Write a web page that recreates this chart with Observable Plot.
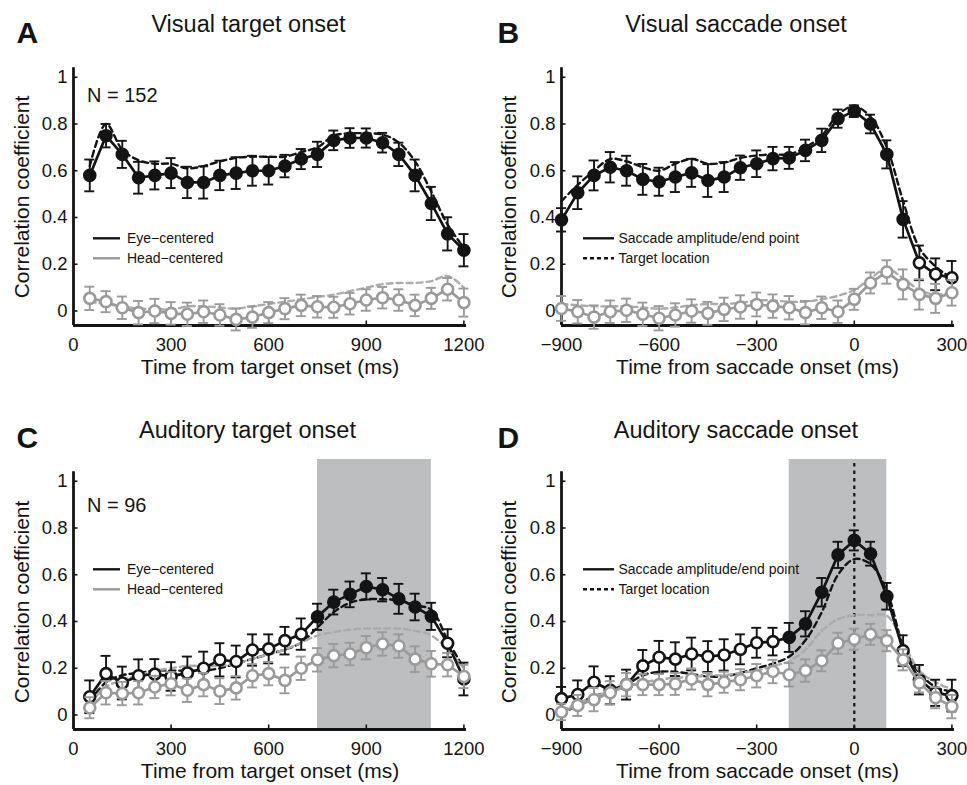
<!DOCTYPE html>
<html><head><meta charset="utf-8">
<script src="https://cdn.jsdelivr.net/npm/d3@7"></script>
<script src="https://cdn.jsdelivr.net/npm/@observablehq/plot@0.6"></script>
<style>
body{margin:0;background:#fff;}
#wrap{position:relative;width:967px;height:785px;overflow:hidden;background:#fff;font-family:"Liberation Sans",Arial,Helvetica,sans-serif;}
#wrap > svg{position:absolute;}
</style></head><body><div id="wrap"></div>
<script>
// ---------- data ----------
const tTarget = [50,100,150,200,250,300,350,400,450,500,550,600,650,700,750,800,850,900,950,1000,1050,1100,1150,1200];
const tSaccade = [-900,-850,-800,-750,-700,-650,-600,-550,-500,-450,-400,-350,-300,-250,-200,-150,-100,-50,0,50,100,150,200,250,300];

const xTicksTarget = [0,300,600,900,1200];
const xLabelsTarget = ["0","300","600","900","1200"];
const xTicksSaccade = [-900,-600,-300,0,300];
const xLabelsSaccade = ["\u2212900","\u2212600","\u2212300","0","300"];
const yTicks = [0,0.2,0.4,0.6,0.8,1];
const yLabels = ["0","0.2","0.4","0.6","0.8","1"];

// Panel A: Visual target onset
const aEye = [0.58,0.75,0.67,0.57,0.58,0.59,0.55,0.55,0.58,0.59,0.60,0.60,0.62,0.65,0.67,0.73,0.74,0.74,0.72,0.67,0.58,0.46,0.33,0.26];
const aEyeErr = [0.068,0.05,0.058,0.068,0.06,0.064,0.067,0.069,0.063,0.068,0.064,0.059,0.048,0.043,0.054,0.042,0.042,0.041,0.042,0.05,0.068,0.071,0.071,0.069];
const aEyeDash = [0.62,0.80,0.69,0.645,0.63,0.63,0.61,0.62,0.64,0.655,0.66,0.66,0.66,0.68,0.70,0.75,0.76,0.76,0.755,0.72,0.64,0.51,0.37,0.27];
const aHead = [0.054,0.04,0.014,-0.007,0.0,-0.01,-0.014,-0.003,-0.017,-0.036,-0.026,-0.007,0.01,0.024,0.018,0.016,0.031,0.047,0.057,0.047,0.024,0.054,0.093,0.036];
const aHeadErr = [0.05,0.045,0.048,0.05,0.052,0.048,0.05,0.048,0.046,0.047,0.046,0.045,0.045,0.046,0.046,0.045,0.046,0.046,0.046,0.046,0.046,0.045,0.048,0.06];
const aHeadDash = [0.04,0.03,0.02,0.01,0.01,0.005,0.02,0.02,0.015,0.01,0.02,0.03,0.04,0.05,0.06,0.07,0.085,0.1,0.115,0.12,0.12,0.128,0.15,0.10];
const aFilled = [1,1,1,1,1,1,1,1,1,1,1,1,1,1,1,1,1,1,1,1,1,1,1,1];

// Panel B: Visual saccade onset
const bEye = [0.39,0.506,0.58,0.615,0.60,0.563,0.553,0.573,0.591,0.558,0.573,0.613,0.63,0.652,0.655,0.687,0.73,0.823,0.855,0.80,0.67,0.392,0.206,0.157,0.142];
const bEyeErr = [0.05,0.07,0.064,0.065,0.064,0.066,0.06,0.064,0.06,0.07,0.064,0.052,0.057,0.05,0.047,0.046,0.05,0.039,0.025,0.04,0.06,0.078,0.074,0.068,0.072];
const bEyeDash = [0.47,0.54,0.60,0.65,0.64,0.615,0.60,0.63,0.65,0.63,0.635,0.655,0.665,0.67,0.67,0.70,0.75,0.84,0.876,0.83,0.70,0.47,0.27,0.19,0.14];
const bHead = [0.011,-0.003,-0.026,-0.003,0.003,-0.014,-0.031,-0.017,0.0,-0.01,0.007,0.017,0.028,0.021,0.014,-0.007,0.014,-0.003,0.05,0.12,0.167,0.114,0.071,0.054,0.078];
const bHeadErr = [0.053,0.05,0.05,0.048,0.05,0.05,0.052,0.05,0.05,0.049,0.05,0.05,0.051,0.05,0.05,0.05,0.048,0.048,0.045,0.045,0.05,0.064,0.065,0.062,0.055];
const bHeadDash = [0.03,0.025,0.02,0.02,0.02,0.015,0.01,0.015,0.025,0.03,0.03,0.035,0.045,0.045,0.04,0.04,0.05,0.065,0.09,0.14,0.18,0.14,0.09,0.07,0.08];
const bFilled = [1,1,1,1,1,1,1,1,1,1,1,1,1,1,1,1,1,1,1,1,1,1,0,0,0];

// Panel C: Auditory target onset
const cEye = [0.078,0.177,0.137,0.168,0.175,0.165,0.18,0.20,0.236,0.229,0.278,0.283,0.318,0.346,0.42,0.483,0.516,0.55,0.536,0.497,0.462,0.422,0.307,0.154];
const cEyeErr = [0.07,0.076,0.07,0.07,0.064,0.061,0.07,0.071,0.071,0.068,0.067,0.062,0.059,0.067,0.056,0.053,0.055,0.056,0.05,0.064,0.057,0.058,0.06,0.07];
const cEyeDash = [0.06,0.14,0.17,0.18,0.19,0.19,0.19,0.19,0.2,0.22,0.24,0.26,0.28,0.31,0.375,0.44,0.48,0.495,0.495,0.49,0.47,0.45,0.32,0.2];
const cHead = [0.031,0.095,0.092,0.095,0.12,0.134,0.106,0.13,0.102,0.116,0.168,0.177,0.148,0.20,0.236,0.254,0.261,0.288,0.304,0.295,0.239,0.219,0.215,0.165];
const cHeadErr = [0.045,0.05,0.05,0.05,0.048,0.05,0.05,0.05,0.055,0.05,0.05,0.05,0.055,0.05,0.05,0.05,0.048,0.05,0.05,0.05,0.055,0.055,0.05,0.05];
const cHeadDash = [0.05,0.12,0.15,0.17,0.19,0.2,0.21,0.21,0.21,0.22,0.24,0.26,0.28,0.31,0.34,0.355,0.365,0.37,0.37,0.37,0.36,0.34,0.28,0.2];
const cFilled = [0,0,0,0,0,0,0,0,0,0,0,0,0,0,1,1,1,1,1,1,1,1,0,0];
const cShade = [750,1100];

// Panel D: Auditory saccade onset
const dEye = [0.07,0.088,0.14,0.106,0.13,0.21,0.247,0.239,0.261,0.25,0.257,0.281,0.309,0.314,0.332,0.39,0.525,0.685,0.747,0.69,0.508,0.275,0.151,0.095,0.083];
const dEyeErr = [0.05,0.06,0.068,0.06,0.064,0.068,0.07,0.072,0.07,0.066,0.067,0.064,0.064,0.059,0.062,0.054,0.061,0.056,0.043,0.051,0.057,0.066,0.063,0.056,0.068];
const dEyeDash = [0.0,0.045,0.08,0.1,0.13,0.17,0.185,0.185,0.175,0.165,0.165,0.18,0.2,0.22,0.25,0.32,0.44,0.6,0.667,0.645,0.53,0.3,0.18,0.12,0.1];
const dHead = [0.013,0.041,0.066,0.095,0.13,0.13,0.13,0.133,0.154,0.13,0.14,0.151,0.168,0.186,0.172,0.19,0.232,0.307,0.324,0.345,0.318,0.236,0.137,0.074,0.036];
const dHeadErr = [0.035,0.045,0.05,0.05,0.05,0.045,0.045,0.047,0.045,0.05,0.045,0.045,0.05,0.05,0.05,0.048,0.045,0.045,0.045,0.045,0.045,0.045,0.04,0.045,0.05];
const dHeadDash = [0.02,0.05,0.08,0.1,0.12,0.14,0.15,0.16,0.16,0.17,0.17,0.18,0.19,0.21,0.23,0.28,0.36,0.41,0.427,0.427,0.425,0.31,0.19,0.14,0.11];
const dFilled = [0,0,0,0,0,0,0,0,0,0,0,0,0,0,1,1,1,1,1,1,1,0,0,0,0];
const dShade = [-200,100];
const dOnset = [0];

// ---------- styling ----------
const BLACK = "#141414", GRAY = "#9a9a9a", GRAYDASH = "#ababab", SHADE = "#bcbec0";
const W = 479, H = 392, ML = 73, MR = 13, MT = 55, MB = 67;
const Y0 = -0.062, YTOP = 1.041, YMAX = 1.093;
const FONT = '"Liberation Sans", Arial, Helvetica, sans-serif';

function panel(cfg) {
  const [X0, X1] = cfg.xDomain;
  const pxX = (W - ML - MR) / (X1 - X0);
  const pxY = (H - MT - MB) / (YMAX - Y0);
  const cap = 5 / pxX, tickX = 4.5 / pxX, tickY = 4.5 / pxY;
  const rows = (vals, errs, dash, filled) => cfg.t.map((t, i) => ({t, v: vals[i], e: errs[i], d: dash[i], f: filled ? filled[i] : 0}));
  const eye = rows(cfg.eye, cfg.eyeErr, cfg.eyeDash, cfg.filled);
  const head = rows(cfg.head, cfg.headErr, cfg.headDash, null);
  const xMap = new Map(cfg.xTicks.map((d, i) => [d, cfg.xLabels[i]]));
  const yMap = new Map(yTicks.map((d, i) => [d, yLabels[i]]));
  const series = (data, color, errColor) => [
    Plot.line(data, {x: "t", y: "v", stroke: color, strokeWidth: 2.7}),
    Plot.ruleX(data, {x: "t", y1: d => d.v - d.e, y2: d => d.v + d.e, stroke: errColor, strokeWidth: 1.9}),
    Plot.ruleY(data, {y: d => d.v + d.e, x1: d => d.t - cap, x2: d => d.t + cap, stroke: errColor, strokeWidth: 1.9}),
    Plot.ruleY(data, {y: d => d.v - d.e, x1: d => d.t - cap, x2: d => d.t + cap, stroke: errColor, strokeWidth: 1.9}),
    Plot.dot(data, {filter: d => !d.f, x: "t", y: "v", r: 5.5, fill: "white", stroke: color, strokeWidth: 2.6}),
    Plot.dot(data, {filter: d => d.f, x: "t", y: "v", r: 5.5, fill: color, stroke: color, strokeWidth: 2.6})
  ];
  return Plot.plot({
    width: W, height: H, marginLeft: ML, marginRight: MR, marginTop: MT, marginBottom: MB,
    x: {domain: [X0, X1]},
    y: {domain: [Y0, YMAX]},
    style: {fontFamily: FONT, background: "transparent", color: BLACK, overflow: "visible"},
    marks: [
      cfg.shade ? Plot.rect([cfg.shade], {x1: d => d[0], x2: d => d[1], y1: () => Y0, y2: () => YMAX, fill: SHADE}) : null,
      cfg.onset ? Plot.ruleX(cfg.onset, {x: d => d, y1: () => Y0, y2: () => YMAX, stroke: BLACK, strokeWidth: 2.2, strokeDasharray: "3.5,4"}) : null,
      // axes lines and inward ticks
      Plot.ruleX([X0], {x: d => d, y1: () => Y0, y2: () => YTOP, stroke: BLACK, strokeWidth: 2.8}),
      Plot.ruleY([Y0], {y: d => d, x1: () => X0, x2: () => X1, stroke: BLACK, strokeWidth: 2.8}),
      Plot.ruleY(yTicks, {y: d => d, x1: () => X0, x2: () => X0 + tickX, stroke: BLACK, strokeWidth: 1.6}),
      Plot.ruleX(cfg.xTicks, {x: d => d, y1: () => Y0, y2: () => Y0 + tickY, stroke: BLACK, strokeWidth: 1.6}),
      Plot.axisX({ticks: cfg.xTicks, tickSize: 0, tickPadding: 12.5, tickFormat: d => xMap.get(d), fontSize: 18.5, label: null}),
      Plot.axisY({ticks: yTicks, tickSize: 0, tickPadding: 6, tickFormat: d => yMap.get(d), fontSize: 18.5, label: null}),
      // dashed (alternative alignment) curves
      Plot.line(eye, {x: "t", y: "d", stroke: BLACK, strokeWidth: 2.4, strokeDasharray: "6,4", curve: "catmull-rom"}),
      Plot.line(head, {x: "t", y: "d", stroke: GRAYDASH, strokeWidth: 2.4, strokeDasharray: "6,4", curve: "catmull-rom"}),
      ...series(eye, BLACK, BLACK),
      ...series(head, GRAY, GRAY)
    ]
  });
}

const wrap = document.getElementById("wrap");
const panels = [
  {left: 0, top: 0, t: tTarget, xDomain: [0, 1208], xTicks: xTicksTarget, xLabels: xLabelsTarget,
   eye: aEye, eyeErr: aEyeErr, eyeDash: aEyeDash, head: aHead, headErr: aHeadErr, headDash: aHeadDash, filled: aFilled},
  {left: 488, top: 0, t: tSaccade, xDomain: [-900, 308], xTicks: xTicksSaccade, xLabels: xLabelsSaccade,
   eye: bEye, eyeErr: bEyeErr, eyeDash: bEyeDash, head: bHead, headErr: bHeadErr, headDash: bHeadDash, filled: bFilled},
  {left: 0, top: 404, t: tTarget, xDomain: [0, 1208], xTicks: xTicksTarget, xLabels: xLabelsTarget,
   eye: cEye, eyeErr: cEyeErr, eyeDash: cEyeDash, head: cHead, headErr: cHeadErr, headDash: cHeadDash, filled: cFilled, shade: cShade},
  {left: 488, top: 404, t: tSaccade, xDomain: [-900, 308], xTicks: xTicksSaccade, xLabels: xLabelsSaccade,
   eye: dEye, eyeErr: dEyeErr, eyeDash: dEyeDash, head: dHead, headErr: dHeadErr, headDash: dHeadDash, filled: dFilled, shade: dShade, onset: dOnset}
];
for (const p of panels) {
  const svg = panel(p);
  svg.style.position = "absolute";
  svg.style.left = p.left + "px";
  svg.style.top = p.top + "px";
  wrap.appendChild(svg);
}

// ---------- text overlay: titles, panel letters, axis labels, legends ----------
const ov = d3.select(wrap).append("svg")
  .attr("width", 967).attr("height", 785)
  .style("position", "absolute").style("left", "0px").style("top", "0px")
  .style("pointer-events", "none")
  .attr("font-family", FONT).attr("fill", BLACK);

const letters = [["A", 16.5, 43.3], ["B", 497.5, 43.3], ["C", 16.5, 448.3], ["D", 497.5, 448.3]];
for (const [s, x, y] of letters) ov.append("text").attr("x", x).attr("y", y).attr("font-size", 30).attr("font-weight", "bold").text(s);

const titles = [["Visual target onset", 248.5, 31.7], ["Visual saccade onset", 736, 31.7],
                ["Auditory target onset", 247.5, 438.3], ["Auditory saccade onset", 736, 438.3]];
for (const [s, x, y] of titles) ov.append("text").attr("x", x).attr("y", y).attr("font-size", 23.5).attr("text-anchor", "middle").text(s);

const xlabels = [["Time from target onset (ms)", 270, 374], ["Time from saccade onset (ms)", 757.5, 374],
                 ["Time from target onset (ms)", 270, 778], ["Time from saccade onset (ms)", 757.5, 778]];
for (const [s, x, y] of xlabels) ov.append("text").attr("x", x).attr("y", y).attr("font-size", 21).attr("text-anchor", "middle").text(s);

const ylabs = [[28.5, 197], [516, 197], [28.5, 602], [516, 602]];
for (const [x, y] of ylabs) ov.append("text").attr("transform", `translate(${x},${y}) rotate(-90)`).attr("font-size", 21).attr("text-anchor", "middle").text("Correlation coefficient");

const nlabels = [["N = 152", 87, 101.7], ["N = 96", 87, 511.7]];
for (const [s, x, y] of nlabels) ov.append("text").attr("x", x).attr("y", y).attr("font-size", 20).text(s);

// legends
const legendRefFrame = [
  {x1: 93, x2: 120, tx: 127, ys: [238.3, 258.3], items: [["Eye\u2212centered", BLACK, null], ["Head\u2212centered", GRAY, null]]},
  {x1: 583, x2: 614, tx: 618.5, ys: [238.3, 258.3], items: [["Saccade amplitude/end point", BLACK, null], ["Target location", BLACK, "4,3"]]},
  {x1: 93, x2: 120, tx: 127, ys: [569.3, 589.3], items: [["Eye\u2212centered", BLACK, null], ["Head\u2212centered", GRAY, null]]},
  {x1: 583, x2: 614, tx: 618.5, ys: [569.3, 589.3], items: [["Saccade amplitude/end point", BLACK, null], ["Target location", BLACK, "4,3"]]}
];
for (const L of legendRefFrame) {
  L.items.forEach(([s, c, dash], i) => {
    const y = L.ys[i];
    const ln = ov.append("line").attr("x1", L.x1).attr("x2", L.x2).attr("y1", y).attr("y2", y).attr("stroke", c).attr("stroke-width", 2.4);
    if (dash) ln.attr("stroke-dasharray", dash);
    ov.append("text").attr("x", L.tx).attr("y", y + 5).attr("font-size", 14).text(s);
  });
}
</script>
</body></html>
